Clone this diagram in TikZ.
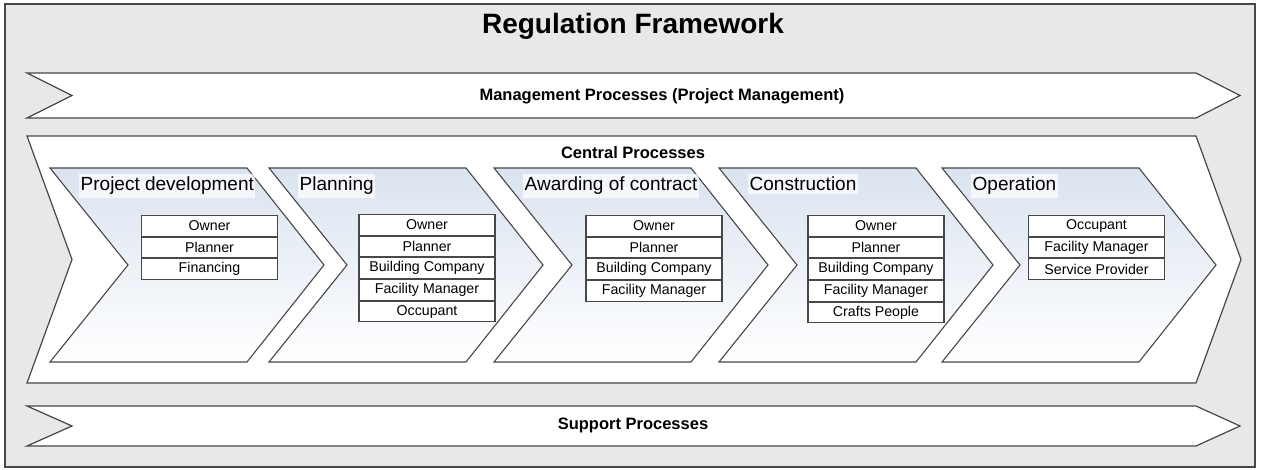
\documentclass[tikz,border=0pt]{standalone}
\usepackage{fontspec}
\setmainfont{Liberation Sans}
\definecolor{bg}{HTML}{E8E8E8}
\definecolor{edge}{HTML}{474747}
\definecolor{chevtop}{HTML}{DAE3F0}
\begin{document}
\begin{tikzpicture}[x=1pt,y=-1pt,
  frame/.style={draw=edge, line width=1.3, fill=bg},
  band/.style={draw=edge, line width=1.2, fill=white},
  chev/.style={draw=edge, line width=1.1},
  bigtitle/.style={font=\bfseries\fontsize{28}{32}\selectfont, inner sep=0},
  proclabel/.style={font=\bfseries\fontsize{16.5}{20}\selectfont, inner sep=0},
  phaselabel/.style={font=\fontsize{19}{22}\selectfont, anchor=base west, fill=white, fill opacity=0.7, text opacity=1, inner xsep=1.5, inner ysep=3},
  role/.style={draw=edge, fill=white, line width=1.1, minimum width=136, minimum height=20.6, inner sep=0, font=\fontsize{14.2}{16}\selectfont}
]
\useasboundingbox (0,0) rectangle (1261,470);
\draw[frame] (5,4) rectangle (1255,467);
\node[bigtitle] (title) at (633,26) {Regulation Framework};

% management band
\draw[band] (27,73) -- (1196,73) -- (1240,95.5) -- (1196,118) -- (27,118) -- (72,95.5) -- cycle;
\node[proclabel] (mgmt) at (662,96) {Management Processes (Project Management)};

% central band
\draw[band] (27,136) -- (1196,136) -- (1241,259.5) -- (1196,383) -- (27,383) -- (72,259.5) -- cycle;
\node[proclabel] (central) at (633,153) {Central Processes};

% support band
\draw[band] (27,406) -- (1196,406) -- (1240,426) -- (1196,446) -- (27,446) -- (72,426) -- cycle;
\node[proclabel] (support) at (633,425) {Support Processes};

% chevrons
\foreach \L in {50,269,494,719,942}{
  \shade[top color=chevtop, bottom color=white]
    (\L,168) -- ({\L+197},168) -- ({\L+274},265) -- ({\L+197},362) -- (\L,362) -- ({\L+78},265) -- cycle;
  \draw[chev]
    (\L,168) -- ({\L+197},168) -- ({\L+274},265) -- ({\L+197},362) -- (\L,362) -- ({\L+78},265) -- cycle;
}

\node[phaselabel] (p1) at (79,191) {Project development};
\node[phaselabel] (p2) at (298,191) {Planning};
\node[phaselabel] (p3) at (523,191) {Awarding of contract};
\node[phaselabel] (p4) at (748,191) {Construction};
\node[phaselabel] (p5) at (971,191) {Operation};

% roles: project development
\node[role, anchor=north] (a1) at (209.5,215) {Owner};
\node[role, anchor=north] (a2) at (a1.south) {Planner};
\node[role, anchor=north] (a3) at (a2.south) {Financing};

% roles: planning
\node[role, anchor=north] (b1) at (427,214) {Owner};
\node[role, anchor=north] (b2) at (b1.south) {Planner};
\node[role, anchor=north] (b3) at (b2.south) {Building Company};
\node[role, anchor=north] (b4) at (b3.south) {Facility Manager};
\node[role, anchor=north] (b5) at (b4.south) {Occupant};

% roles: awarding of contract
\node[role, anchor=north] (c1) at (654,215) {Owner};
\node[role, anchor=north] (c2) at (c1.south) {Planner};
\node[role, anchor=north] (c3) at (c2.south) {Building Company};
\node[role, anchor=north] (c4) at (c3.south) {Facility Manager};

% roles: construction
\node[role, anchor=north] (d1) at (876,215) {Owner};
\node[role, anchor=north] (d2) at (d1.south) {Planner};
\node[role, anchor=north] (d3) at (d2.south) {Building Company};
\node[role, anchor=north] (d4) at (d3.south) {Facility Manager};
\node[role, anchor=north] (d5) at (d4.south) {Crafts People};

% roles: operation
\node[role, anchor=north] (e1) at (1096.5,215) {Occupant};
\node[role, anchor=north] (e2) at (e1.south) {Facility Manager};
\node[role, anchor=north] (e3) at (e2.south) {Service Provider};
\end{tikzpicture}
\end{document}
